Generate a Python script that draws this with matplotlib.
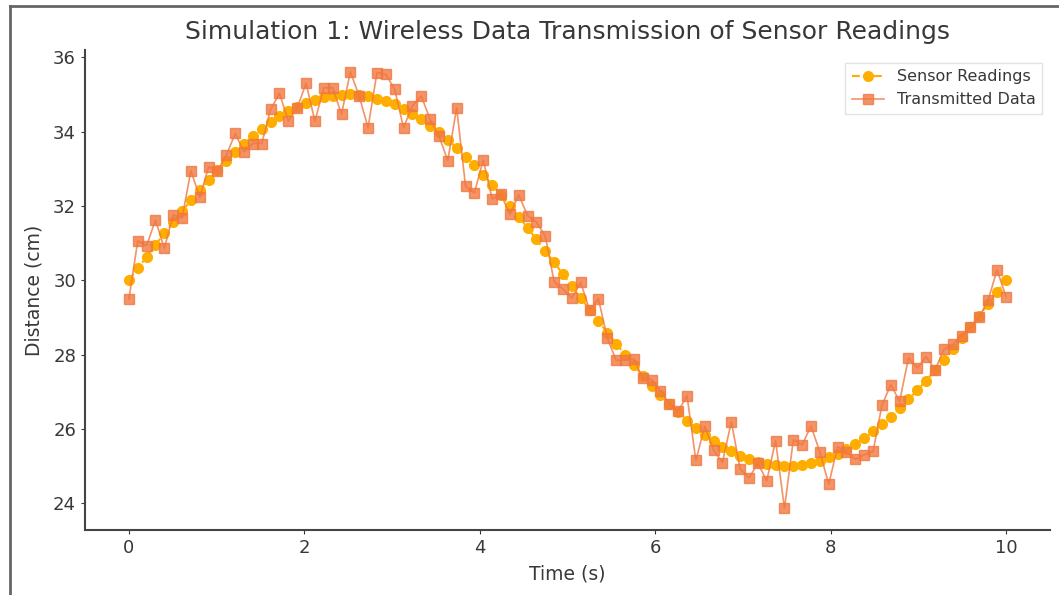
import numpy as np
import matplotlib
matplotlib.use("Agg")
import matplotlib.pyplot as plt
from matplotlib.lines import Line2D

# ---- data ----
time_s = np.linspace(0, 10, 100)

sensor_readings = [
    30.00, 30.32, 30.63, 30.95, 31.26, 31.56, 31.86, 32.15, 32.43, 32.70,
    32.96, 33.21, 33.45, 33.67, 33.88, 34.07, 34.25, 34.41, 34.55, 34.67,
    34.77, 34.86, 34.92, 34.97, 34.99, 35.00, 34.98, 34.95, 34.89, 34.82,
    34.73, 34.61, 34.48, 34.33, 34.16, 33.98, 33.78, 33.56, 33.33, 33.09,
    32.84, 32.57, 32.29, 32.00, 31.71, 31.41, 31.10, 30.79, 30.48, 30.16,
    29.84, 29.52, 29.21, 28.90, 28.59, 28.29, 28.00, 27.71, 27.43, 27.16,
    26.91, 26.67, 26.44, 26.22, 26.02, 25.84, 25.67, 25.52, 25.39, 25.27,
    25.18, 25.11, 25.05, 25.02, 25.00, 25.01, 25.03, 25.08, 25.14, 25.23,
    25.33, 25.45, 25.59, 25.75, 25.93, 26.12, 26.33, 26.55, 26.79, 27.04,
    27.30, 27.57, 27.85, 28.14, 28.44, 28.74, 29.05, 29.37, 29.68, 30.00,
]

transmitted_data = [
    29.49, 31.06, 30.93, 31.62, 30.86, 31.76, 31.67, 32.95, 32.23, 33.05,
    32.95, 33.36, 33.95, 33.45, 33.68, 33.68, 34.60, 35.03, 34.28, 34.64,
    35.30, 34.28, 35.18, 35.18, 34.47, 35.61, 34.95, 34.11, 35.59, 35.54,
    35.14, 34.11, 34.69, 34.96, 34.33, 33.88, 33.22, 34.64, 32.53, 32.35,
    33.24, 32.19, 32.31, 31.77, 32.30, 31.74, 31.57, 31.19, 29.96, 29.76,
    29.52, 29.94, 29.20, 29.50, 28.45, 27.84, 27.85, 27.88, 27.37, 27.32,
    27.03, 26.68, 26.47, 26.89, 25.15, 26.07, 25.43, 25.09, 26.19, 24.92,
    24.68, 25.07, 24.60, 25.68, 23.86, 25.70, 25.57, 26.08, 25.37, 24.51,
    25.52, 25.37, 25.18, 25.30, 25.39, 26.63, 27.19, 26.74, 27.91, 27.64,
    27.94, 27.59, 28.14, 28.27, 28.51, 28.74, 29.01, 29.47, 30.28, 29.56,
]

title = "Simulation 1: Wireless Data Transmission of Sensor Readings"
xlabel = "Time (s)"
ylabel = "Distance (cm)"
series_labels = ["Sensor Readings", "Transmitted Data"]

# ---- figure ----
text_color = "#383838"
plt.rcParams["font.family"] = ["DejaVu Sans"]
fig = plt.figure(figsize=(10.59, 5.95), dpi=100)
ax = fig.add_axes([0.0803, 0.109, 0.911, 0.807])

ax.plot(time_s, sensor_readings, linestyle="--", marker="o", color="#FFAE00",
        markersize=7, linewidth=1.5, label=series_labels[0])
ax.plot(time_s, transmitted_data, linestyle="-", marker="s", color="#F07840",
        markersize=6.5, linewidth=1.2, alpha=0.8, label=series_labels[1])

ax.set_title(title, fontsize=18, color=text_color, pad=8)
ax.set_xlabel(xlabel, fontsize=13.5, color=text_color, labelpad=5)
ax.set_ylabel(ylabel, fontsize=13.5, color=text_color, labelpad=7)
ax.set_xticks([0, 2, 4, 6, 8, 10])
ax.set_yticks([24, 26, 28, 30, 32, 34, 36])
ax.tick_params(labelsize=13, colors=text_color, direction="out", length=3)
for side in ["top", "right"]:
    ax.spines[side].set_visible(False)
for side in ["left", "bottom"]:
    ax.spines[side].set_color("#444444")
    ax.spines[side].set_linewidth(1.5)

leg = ax.legend(loc="upper right", fontsize=11.5, frameon=True, fancybox=False,
                edgecolor="#dddddd", labelcolor=text_color,
                bbox_to_anchor=(1.0, 0.99))

# outer screenshot frame
fig.add_artist(Line2D([10 / 1059, 1], [1 - 6 / 595, 1 - 6 / 595], color="#666666",
                      linewidth=2, transform=fig.transFigure))
fig.add_artist(Line2D([10 / 1059, 10 / 1059], [0, 1 - 6 / 595], color="#666666",
                      linewidth=2, transform=fig.transFigure))

fig.savefig("out.png", dpi=100)
